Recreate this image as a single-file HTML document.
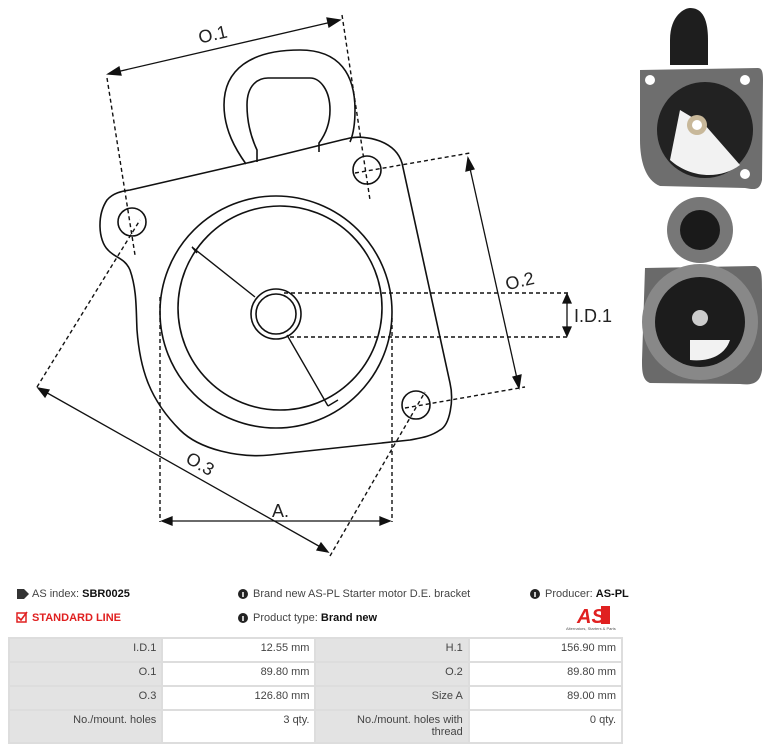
<!DOCTYPE html>
<html><head><meta charset="utf-8"><style>
body{margin:0;width:769px;height:749px;background:#fff;position:relative;overflow:hidden;font-family:"Liberation Sans",sans-serif;}
svg{position:absolute;left:0;top:0}
.t{position:absolute;font-size:11px;color:#444;white-space:nowrap}
.t b{color:#111}
table{position:absolute;left:8px;top:637px;border-collapse:collapse;font-size:11px;color:#444;width:615px}
td{border:2px solid #ddd;text-align:right;padding:0 5px;height:19px;vertical-align:top;padding-top:3px}
td.g{background:#e3e3e3;width:142px}
td.w{background:#fff;width:142px}
</style></head><body>
<svg width="769" height="749" viewBox="0 0 769 749">
<g fill="none" stroke="#111" stroke-width="1.6">
<path d="M246,164 C236,150 224,130 224,105 C224,70 250,50 300,50 C340,50 355,75 355,110 C355,125 353,135 350,142"/>
<path d="M257,162 L257,150 C250,135 247,120 247,105 C247,85 258,78 268,78 L310,78 C320,78 330,90 330,110 C330,125 325,135 319,143 L319,152"/>
<path d="M130,190 L247,163 C290,153 320,145 350,138 C365,135 395,140 402,163 L450,383 C454,400 450,425 440,430 C430,437 420,438 410,440 L270,455 C240,458 200,450 180,430 C150,400 140,370 137,330 C136,310 137,290 130,270 C125,258 115,258 108,250 C98,240 97,215 107,200 C113,193 122,191 130,190 Z"/>
<circle cx="132" cy="222" r="14"/>
<circle cx="367" cy="170" r="14"/>
<circle cx="416" cy="405" r="14"/>
<circle cx="276" cy="312" r="116"/>
<circle cx="280" cy="308" r="102"/>
<circle cx="276" cy="314" r="25"/>
<circle cx="276" cy="314" r="20"/>
<path d="M192,247 L255,297 M287,335 L328,406 M192,247 L197,253 M328,406 L338,400" stroke-width="1.4"/>
</g>
<g fill="none" stroke="#111" stroke-width="1.4" stroke-dasharray="4,3">
<path d="M107,78 L135,255"/>
<path d="M342,15 L370,200"/>
<path d="M355,173 L470,153"/>
<path d="M405,408 L525,387"/>
<path d="M284,293 L570,293 M290,337 L570,337"/>
<path d="M160,297 L160,522 M392,318 L392,522"/>
<path d="M37,387 L140,220"/>
<path d="M330,556 L425,392"/>
</g>
<g stroke="#111" stroke-width="1.3" fill="#111">
<line x1="112" y1="73" x2="336" y2="21"/>
<polygon points="108,74 119,67 121,75"/><polygon points="340,20 329,27 327,18"/>
<line x1="469" y1="164" x2="518" y2="383"/>
<polygon points="468,158 466,171 474,169"/><polygon points="519,388 513,377 521,375"/>
<line x1="567" y1="298" x2="567" y2="332"/>
<polygon points="567,294 563,303 571,303"/><polygon points="567,336 563,327 571,327"/>
<line x1="166" y1="521" x2="386" y2="521"/>
<polygon points="162,521 172,517 172,525"/><polygon points="390,521 380,517 380,525"/>
<line x1="42" y1="390" x2="324" y2="549"/>
<polygon points="38,388 49,390 45,397"/><polygon points="328,552 317,550 321,543"/>
</g>
<g font-family="'Liberation Sans',sans-serif" font-size="18" fill="#222">
<text x="198" y="40" transform="rotate(-13 215 33)">O.1</text>
<text x="505" y="287" transform="rotate(-13 520 280)">O.2</text>
<text x="574" y="322">I.D.1</text>
<text x="272" y="517">A.</text>
<text x="185" y="470" transform="rotate(30 200 465)">O.3</text>
</g>
<path d="M670,40 C670,15 685,8 690,8 C700,8 708,15 708,40 L708,65 L670,65 Z" fill="#1e1e1e"/>
<path d="M640,70 L758,68 C762,68 763,72 763,80 L762,180 C760,190 755,190 745,188 L660,186 C645,180 640,160 640,140 Z" fill="#6e6e6e"/>
<circle cx="705" cy="130" r="48" fill="#222"/>
<path d="M680,110 L705,125 L740,165 C720,180 690,178 670,160 Z" fill="#f2f2f2"/>
<circle cx="697" cy="125" r="10" fill="#c8b89a"/><circle cx="697" cy="125" r="5" fill="#fff"/>
<circle cx="650" cy="80" r="5" fill="#fff"/><circle cx="745" cy="80" r="5" fill="#fff"/><circle cx="745" cy="174" r="5" fill="#fff"/>
<circle cx="700" cy="230" r="33" fill="#777"/><circle cx="700" cy="230" r="20" fill="#1a1a1a"/>
<path d="M645,268 L755,266 C762,268 762,275 762,290 L762,370 C760,385 750,385 740,384 L650,383 C642,380 642,370 642,360 Z" fill="#6a6a6a"/>
<circle cx="700" cy="322" r="58" fill="#888"/><circle cx="700" cy="322" r="45" fill="#1c1c1c"/>
<path d="M690,340 L730,340 C725,355 710,362 690,360 Z" fill="#f2f2f2"/>
<circle cx="700" cy="318" r="8" fill="#ccc"/>
<path d="M17,589 L24,589 L29,594 L24,599 L17,599 Z" fill="#333"/>
<rect x="17" y="613" width="9" height="9" fill="none" stroke="#e02020" stroke-width="1.5"/>
<path d="M18,617 L21,620 L27,612" stroke="#e02020" stroke-width="1.6" fill="none"/>
<circle cx="243" cy="594" r="5" fill="#222"/><circle cx="243" cy="618" r="5" fill="#222"/><circle cx="535" cy="594" r="5" fill="#222"/>
<path d="M243,592 v5 M243,616 v5 M535,592 v5" stroke="#fff" stroke-width="1.5"/>
<text x="577" y="623" font-family="'Liberation Sans',sans-serif" font-size="20" font-weight="bold" font-style="italic" fill="#e02020">AS</text>
<rect x="601" y="606" width="9" height="18" fill="#e02020"/>
<text x="566" y="630" font-family="'Liberation Sans',sans-serif" font-size="4" fill="#555">Alternators, Starters &amp; Parts</text>
</svg>
<div class="t" style="left:32px;top:588px">AS index: <b>SBR0025</b></div>
<div class="t" style="left:32px;top:612px;color:#e02020;font-weight:bold">STANDARD LINE</div>
<div class="t" style="left:253px;top:588px">Brand new AS-PL Starter motor D.E. bracket</div>
<div class="t" style="left:253px;top:612px">Product type: <b>Brand new</b></div>
<div class="t" style="left:545px;top:588px">Producer: <b>AS-PL</b></div>
<table>
<tr><td class="g">I.D.1</td><td class="w">12.55 mm</td><td class="g">H.1</td><td class="w">156.90 mm</td></tr>
<tr><td class="g">O.1</td><td class="w">89.80 mm</td><td class="g">O.2</td><td class="w">89.80 mm</td></tr>
<tr><td class="g">O.3</td><td class="w">126.80 mm</td><td class="g">Size A</td><td class="w">89.00 mm</td></tr>
<tr><td class="g" style="height:28px">No./mount. holes</td><td class="w">3 qty.</td><td class="g">No./mount. holes with<br>thread</td><td class="w">0 qty.</td></tr>
</table>
</body></html>
